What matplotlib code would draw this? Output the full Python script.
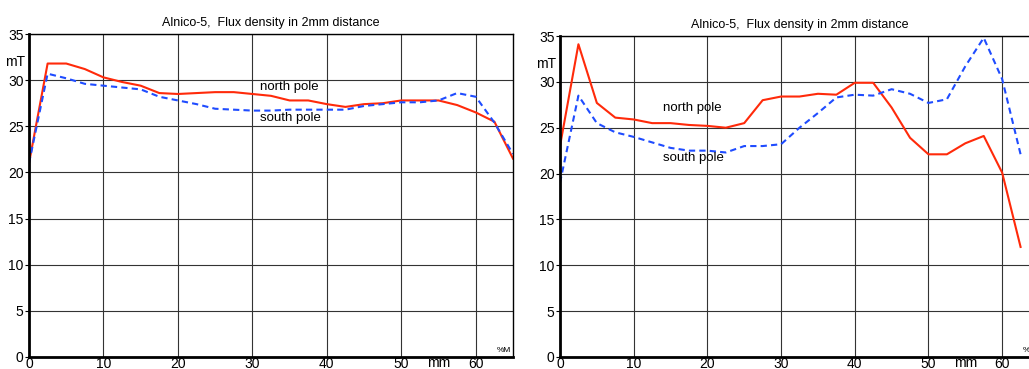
import numpy as np
import matplotlib
matplotlib.use("Agg")
from matplotlib import pyplot as plt

plt.rcParams['font.family'] = ['Liberation Sans', 'DejaVu Sans']

# positions along the magnet, mm
pos_left = np.arange(0, 65.1, 2.5)
pos_right = np.arange(0, 62.6, 2.5)

# left magnet
north_left = [21.0, 31.8, 31.8, 31.2, 30.3, 29.8, 29.4, 28.6, 28.5, 28.6, 28.7, 28.7, 28.5, 28.3,
              27.8, 27.8, 27.4, 27.1, 27.4, 27.5, 27.8, 27.8, 27.8, 27.3, 26.5, 25.5, 21.5]
south_left = [21.0, 30.7, 30.2, 29.6, 29.4, 29.2, 29.0, 28.2, 27.8, 27.4, 26.9, 26.8, 26.7, 26.7,
              26.8, 26.8, 26.8, 26.8, 27.2, 27.4, 27.6, 27.6, 27.8, 28.6, 28.2, 25.4, 22.0]

# right magnet
north_right = [23.0, 34.1, 27.7, 26.1, 25.9, 25.5, 25.5, 25.3, 25.2, 25.0, 25.5, 28.0, 28.4, 28.4,
               28.7, 28.6, 29.9, 29.9, 27.2, 23.9, 22.1, 22.1, 23.3, 24.1, 20.1, 12.0]
south_right = [19.0, 28.5, 25.5, 24.5, 24.0, 23.4, 22.8, 22.5, 22.5, 22.3, 23.0, 23.0, 23.2, 25.0,
               26.6, 28.3, 28.6, 28.5, 29.2, 28.7, 27.7, 28.1, 31.7, 34.8, 30.3, 22.1]

title = "Alnico-5,  Flux density in 2mm distance"

fig = plt.figure(figsize=(10.29, 3.69), dpi=100)
ax1 = fig.add_axes([29/1029, 12/369, 484/1029, 323/369])
ax2 = fig.add_axes([560/1029, 12/369, 479/1029, 321/369])


def draw(ax, x, north, south, npos, spos):
    ax.plot(x, north, color='#ff2a0a', lw=1.5)
    ax.plot(x, south, color='#1f4cff', lw=1.5, ls=(0, (3, 2)))
    ax.set_xlim(0, 65)
    ax.set_ylim(0, 35)
    ax.set_xticks(range(0, 61, 10))
    ax.set_yticks(range(0, 36, 5))
    ax.grid(True, color='#333333', lw=0.8)
    ax.tick_params(labelsize=10, length=3, pad=1, direction='out')
    ax.tick_params(axis='x', length=0, pad=0)
    for s in ['left', 'bottom']:
        ax.spines[s].set_linewidth(2)
    for s in ['top', 'right']:
        ax.spines[s].set_linewidth(1)
    ax.set_title(title, fontsize=9, pad=6)
    ax.text(-0.5, 32, "mT", fontsize=10, ha='right', va='center')
    ax.text(55, -1.05, "mm", fontsize=10, ha='center', va='baseline')
    ax.text(npos[0], npos[1], "north pole", fontsize=9.5, ha='left', va='center')
    ax.text(spos[0], spos[1], "south pole", fontsize=9.5, ha='left', va='center')
    ax.text(62.8, 0.3, "%M", fontsize=6, ha='left', va='bottom')


draw(ax1, pos_left, north_left, south_left, (31, 29.3), (31, 25.9))
draw(ax2, pos_right, north_right, south_right, (14, 27.1), (14, 21.7))

fig.savefig('out.png', dpi=100)
